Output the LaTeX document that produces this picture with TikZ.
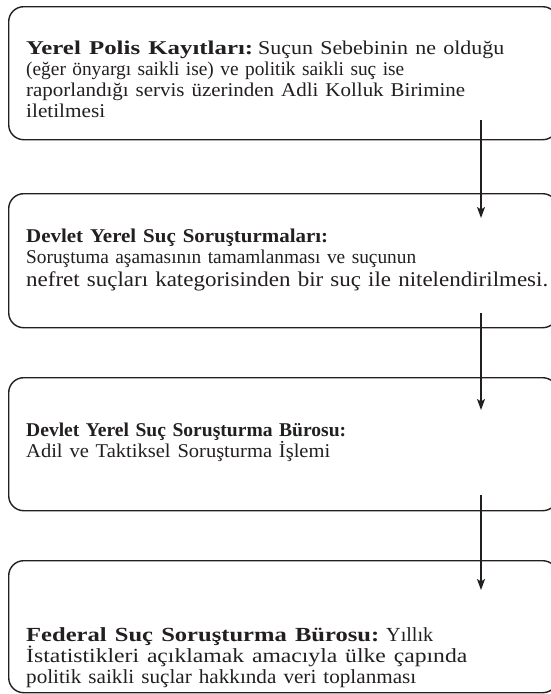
\documentclass[tikz,border=0pt]{standalone}
\usepackage{fontspec}
\usepackage{graphicx}
\setmainfont{Liberation Serif}
\usetikzlibrary{arrows.meta}
\definecolor{ink}{HTML}{231F20}
% fit one run of text to a measured width, keeping its height
\newcommand\wl[2]{\resizebox{#1pt}{\height}{#2}}
\begin{document}
\begin{tikzpicture}[x=1pt,y=-1pt,
  box/.style={draw=ink, line width=1.4pt, rounded corners=15pt, inner sep=0pt, anchor=north west, minimum width=549pt},
  txt/.style={anchor=base west, inner sep=0pt, align=left, text width=600pt, font=\fontsize{19.5}{21}\selectfont, text=ink},
  flow/.style={draw=ink, line width=1.4pt, -{Stealth[length=11pt,width=8pt,inset=2.5pt]}}]
\useasboundingbox (0,0) rectangle (551,694);
\fill[white] (0,0) rectangle (551,694);
% boxes
\node[box, minimum height=133pt] (b1) at (8,6) {};
\node[box, minimum height=134pt] (b2) at (8,193) {};
\node[box, minimum height=133pt] (b3) at (8,377) {};
\node[box, minimum height=132pt] (b4) at (8,560) {};
% texts
\node[txt] (t1) at (26,54) {\wl{227}{\textbf{Yerel Polis Kayıtları:}}\hspace{5pt}\wl{246}{Suçun Sebebinin ne olduğu}\\
  \wl{378}{(eğer önyargı saikli ise) ve politik saikli suç ise}\\
  \wl{439}{raporlandığı servis üzerinden Adli Kolluk Birimine}\\
  \wl{79}{iletilmesi}};
\node[txt] (t2) at (26,242) {\wl{302}{\textbf{Devlet Yerel Suç Soruşturmaları:}}\\
  \wl{390}{Soruştuma aşamasının tamamlanması ve suçunun}\\[2pt]
  {\fontsize{21}{23}\selectfont\wl{522}{nefret suçları kategorisinden bir suç ile nitelendirilmesi.}}};
\node[txt, font=\fontsize{19.5}{20}\selectfont] (t3) at (26,436) {\wl{320}{\textbf{Devlet Yerel Suç Soruşturma Bürosu:}}\\
  \wl{304}{Adil ve Taktiksel Soruşturma İşlemi}};
\node[txt, font=\fontsize{20}{21}\selectfont] (t4) at (26,641) {\wl{353}{\textbf{Federal Suç Soruşturma Bürosu:}}\hspace{7pt}\wl{47}{Yıllık}\\
  \wl{441}{İstatistikleri açıklamak amacıyla ülke çapında}\\
  \wl{390}{politik saikli suçlar hakkında veri toplanması}};
% arrows
\coordinate (a1s) at (481,120);
\coordinate (a1e) at (481,218);
\coordinate (a2s) at (481,313);
\coordinate (a2e) at (481,410);
\coordinate (a3s) at (481,495);
\coordinate (a3e) at (481,590);
\draw[flow] (a1s) -- (a1e);
\draw[flow] (a2s) -- (a2e);
\draw[flow] (a3s) -- (a3e);
\end{tikzpicture}
\end{document}
